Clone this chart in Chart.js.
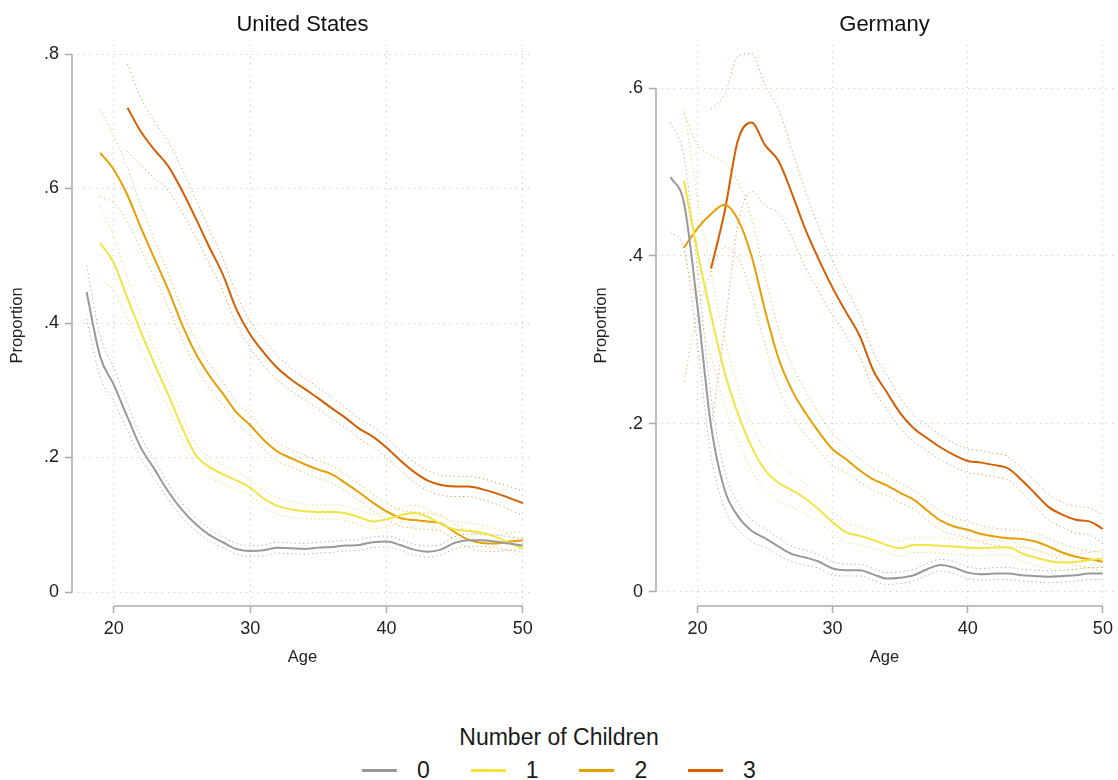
<!DOCTYPE html>
<html>
<head>
<meta charset="utf-8">
<script src="https://cdn.jsdelivr.net/npm/chart.js@4.4.1/dist/chart.umd.min.js"></script>
<style>
  body { margin: 0; background: #fff; font-family: "Liberation Sans", Arial, sans-serif; color: #1a1a1a; }
  #wrap { position: relative; width: 1118px; height: 780px; overflow: hidden; }
  .panel { position: absolute; top: 0; width: 559px; height: 700px; }
  #legendTitle { position: absolute; left: 0; top: 723px; width: 1118px; text-align: center; font-size: 23px; line-height: 28px; }
  .item { position: absolute; top: 756px; height: 28px; line-height: 28px; font-size: 23px; }
  .swatch { position: absolute; left: 0; top: 13px; width: 35px; height: 2.5px; }
  .lbl { position: absolute; left: 55px; top: 0; }
</style>
</head>
<body>
<div id="wrap">
  <div class="panel" style="left:0"><canvas id="us" width="559" height="700"></canvas></div>
  <div class="panel" style="left:559px"><canvas id="de" width="559" height="700"></canvas></div>
  <div id="legendTitle">Number of Children</div>
  <div id="legendItems"></div>
</div>
<script>
// ages 18..50
const ages = [18,19,20,21,22,23,24,25,26,27,28,29,30,31,32,33,34,35,36,37,38,39,40,41,42,43,44,45,46,47,48,49,50];
const childGroups = ['0', '1', '2', '3'];
const xTicks = [20, 30, 40, 50];
const usTicksY = [0, 0.2, 0.4, 0.6, 0.8];
const deTicksY = [0, 0.2, 0.4, 0.6];

// United States: proportion by age, per number of children
const us0 = [0.446,0.350,0.308,0.260,0.214,0.182,0.149,0.122,0.101,0.085,0.074,0.064,0.061,0.062,0.066,0.065,0.064,0.066,0.067,0.069,0.070,0.074,0.075,0.070,0.063,0.060,0.063,0.073,0.077,0.077,0.075,0.072,0.069];
const us1 = [null,0.519,0.489,0.437,0.386,0.338,0.293,0.245,0.204,0.186,0.175,0.166,0.155,0.139,0.128,0.123,0.120,0.119,0.119,0.117,0.111,0.105,0.108,0.114,0.118,0.112,0.101,0.093,0.091,0.088,0.082,0.073,0.065];
const us2 = [null,0.653,0.628,0.590,0.541,0.495,0.449,0.398,0.355,0.322,0.295,0.267,0.248,0.226,0.209,0.199,0.190,0.182,0.175,0.162,0.148,0.133,0.120,0.110,0.107,0.105,0.102,0.089,0.078,0.073,0.072,0.075,0.077];
const us3 = [null,null,null,0.720,0.684,0.657,0.633,0.597,0.556,0.513,0.472,0.420,0.383,0.356,0.333,0.316,0.302,0.288,0.273,0.259,0.243,0.231,0.215,0.196,0.179,0.166,0.159,0.157,0.157,0.153,0.147,0.140,0.132];

// United States: half-width of the confidence band
const usCi0 = [0.040,0.030,0.025,0.020,0.016,0.014,0.012,0.011,0.010,0.009,0.008,0.008,0.008,0.008,0.008,0.008,0.008,0.008,0.008,0.008,0.008,0.008,0.008,0.008,0.008,0.008,0.008,0.009,0.009,0.009,0.010,0.010,0.010];
const usCi1 = [null,0.055,0.040,0.030,0.025,0.022,0.020,0.018,0.016,0.015,0.014,0.013,0.012,0.012,0.012,0.012,0.011,0.011,0.011,0.011,0.011,0.011,0.011,0.011,0.011,0.011,0.011,0.012,0.012,0.012,0.013,0.013,0.014];
const usCi2 = [null,0.065,0.050,0.040,0.032,0.028,0.025,0.022,0.020,0.018,0.017,0.016,0.015,0.014,0.014,0.013,0.013,0.013,0.013,0.012,0.012,0.012,0.012,0.012,0.012,0.012,0.012,0.012,0.012,0.012,0.012,0.013,0.013];
const usCi3 = [null,null,null,0.065,0.050,0.042,0.036,0.032,0.028,0.026,0.024,0.022,0.020,0.019,0.018,0.017,0.016,0.016,0.016,0.015,0.015,0.015,0.015,0.015,0.015,0.015,0.015,0.015,0.015,0.016,0.016,0.017,0.018];

// Germany
const de0 = [0.494,0.463,0.340,0.198,0.122,0.090,0.073,0.064,0.054,0.045,0.041,0.036,0.028,0.026,0.026,0.021,0.016,0.017,0.020,0.027,0.032,0.029,0.023,0.021,0.022,0.022,0.020,0.019,0.018,0.019,0.020,0.022,0.022];
const de1 = [null,0.490,0.405,0.330,0.262,0.212,0.173,0.145,0.130,0.121,0.111,0.098,0.083,0.071,0.067,0.062,0.056,0.052,0.056,0.056,0.055,0.054,0.053,0.052,0.053,0.053,0.046,0.041,0.037,0.035,0.036,0.038,0.040];
const de2 = [null,0.410,0.433,0.450,0.461,0.443,0.400,0.335,0.278,0.240,0.213,0.190,0.170,0.158,0.145,0.134,0.127,0.118,0.110,0.097,0.085,0.078,0.074,0.069,0.066,0.064,0.063,0.060,0.054,0.047,0.042,0.039,0.036];
const de3 = [null,null,null,0.385,0.452,0.538,0.559,0.532,0.513,0.474,0.431,0.395,0.362,0.333,0.305,0.264,0.238,0.213,0.195,0.183,0.172,0.163,0.156,0.154,0.151,0.147,0.133,0.117,0.101,0.092,0.086,0.084,0.075];

const deCi0 = [0.065,0.055,0.045,0.035,0.022,0.016,0.013,0.011,0.010,0.009,0.009,0.008,0.008,0.007,0.007,0.007,0.007,0.007,0.007,0.007,0.007,0.007,0.007,0.007,0.007,0.007,0.007,0.007,0.007,0.007,0.007,0.007,0.007];
const deCi1 = [null,0.085,0.065,0.050,0.040,0.032,0.027,0.024,0.022,0.020,0.018,0.016,0.014,0.012,0.011,0.010,0.009,0.009,0.009,0.009,0.009,0.009,0.009,0.009,0.009,0.009,0.009,0.009,0.009,0.009,0.009,0.009,0.010];
const deCi2 = [null,0.160,0.100,0.070,0.050,0.045,0.045,0.040,0.035,0.030,0.026,0.022,0.019,0.016,0.014,0.013,0.012,0.012,0.011,0.011,0.011,0.010,0.010,0.010,0.010,0.010,0.010,0.010,0.010,0.010,0.010,0.010,0.011];
const deCi3 = [null,null,null,0.190,0.140,0.100,0.082,0.072,0.062,0.052,0.045,0.038,0.032,0.028,0.025,0.022,0.020,0.018,0.016,0.015,0.015,0.014,0.014,0.014,0.014,0.014,0.014,0.015,0.015,0.015,0.016,0.016,0.017];

const colors = ['#999999', '#F0E442', '#E69F00', '#D55E00'];
const ciColors = ['rgba(140,140,140,0.75)', 'rgba(225,210,60,0.8)', 'rgba(225,155,20,0.75)', 'rgba(213,94,0,0.65)'];
const FONT = '"Liberation Sans", Arial, sans-serif';

const toPoints = (vals, off, sign) => ages
  .map((a, i) => vals[i] == null ? null : { x: a, y: vals[i] + (off ? sign * off[i] : 0) })
  .filter(Boolean);

// axis lines only span the first to last tick, like the original
const axisLines = {
  id: 'axisLines',
  beforeDatasetsDraw(chart) {
    const { ctx, chartArea, scales: { x, y } } = chart;
    ctx.save();
    ctx.strokeStyle = '#ababab';
    ctx.lineWidth = 1.5;
    ctx.beginPath();
    ctx.moveTo(chartArea.left, y.getPixelForValue(y.ticks[0].value));
    ctx.lineTo(chartArea.left, y.getPixelForValue(y.ticks[y.ticks.length - 1].value));
    ctx.moveTo(x.getPixelForValue(x.ticks[0].value), chartArea.bottom);
    ctx.lineTo(x.getPixelForValue(x.ticks[x.ticks.length - 1].value), chartArea.bottom);
    ctx.stroke();
    ctx.restore();
  }
};

function makePanel(id, title, series, cis, yTicks, yMin, yMax, yWidth, padRight, yTitlePad) {
  const datasets = [];
  series.forEach((vals, k) => {
    datasets.push({
      label: childGroups[k], data: toPoints(vals), borderColor: colors[k],
      borderWidth: 2, pointRadius: 0, cubicInterpolationMode: 'monotone', order: 1
    });
    [1, -1].forEach(sign => datasets.push({
      label: childGroups[k] + ' ci', data: toPoints(vals, cis[k], sign), borderColor: ciColors[k],
      borderWidth: 1, borderDash: [1.2, 3], pointRadius: 0, cubicInterpolationMode: 'monotone', order: 2
    }));
  });

  return new Chart(document.getElementById(id), {
    type: 'line',
    data: { datasets },
    plugins: [axisLines],
    options: {
      responsive: false,
      animation: false,
      events: [],
      layout: { padding: { left: 0, right: padRight, top: 0, bottom: 0 } },
      plugins: {
        legend: { display: false },
        tooltip: { enabled: false },
        title: {
          display: true, text: title, fullSize: false, color: '#111',
          font: { family: FONT, size: 22, weight: 'normal' },
          padding: { top: 12, bottom: 6.6 }
        }
      },
      scales: {
        x: {
          type: 'linear', min: 16.93, max: 50.75,
          afterBuildTicks: s => { s.ticks = xTicks.map(v => ({ value: v })); },
          afterFit: s => { s.height = 94; },
          ticks: { color: '#222', padding: 5, font: { family: FONT, size: 18 }, callback: v => String(v) },
          grid: { color: '#c8c8c8', lineWidth: 1, tickLength: 7, tickColor: '#ababab', tickWidth: 1.5, tickBorderDash: [] },
          border: { display: false, dash: [1, 5] },
          title: { display: true, text: 'Age', color: '#222', font: { family: FONT, size: 16.5 }, padding: { top: 0, bottom: 33 } }
        },
        y: {
          type: 'linear', min: yMin, max: yMax,
          afterBuildTicks: s => { s.ticks = yTicks.map(v => ({ value: v })); },
          afterFit: s => { s.width = yWidth; },
          ticks: {
            color: '#222', padding: 6, font: { family: FONT, size: 18 },
            callback: v => v === 0 ? '0' : String(+v.toFixed(2)).replace(/^0\./, '.')
          },
          grid: { color: '#c8c8c8', lineWidth: 1, tickLength: 7, tickColor: '#ababab', tickWidth: 1.5, tickBorderDash: [] },
          border: { display: false, dash: [1, 5] },
          title: { display: true, text: 'Proportion', color: '#222', font: { family: FONT, size: 16.5 }, padding: { top: yTitlePad, bottom: 0 } }
        }
      }
    }
  });
}

makePanel('us', 'United States', [us0, us1, us2, us3], [usCi0, usCi1, usCi2, usCi3], usTicksY, -0.0208, 0.8134, 72, 26, 8);
makePanel('de', 'Germany', [de0, de1, de2, de3], [deCi0, deCi1, deCi2, deCi3], deTicksY, -0.0167, 0.6512, 97, 2, 33);

// shared legend
const legendBox = document.getElementById('legendItems');
childGroups.forEach((g, k) => {
  const item = document.createElement('div');
  item.className = 'item';
  item.style.left = (362 + k * 108.7) + 'px';
  item.innerHTML = `<span class="swatch" style="background:${colors[k]}"></span><span class="lbl">${g}</span>`;
  legendBox.appendChild(item);
});
</script>
</body>
</html>
